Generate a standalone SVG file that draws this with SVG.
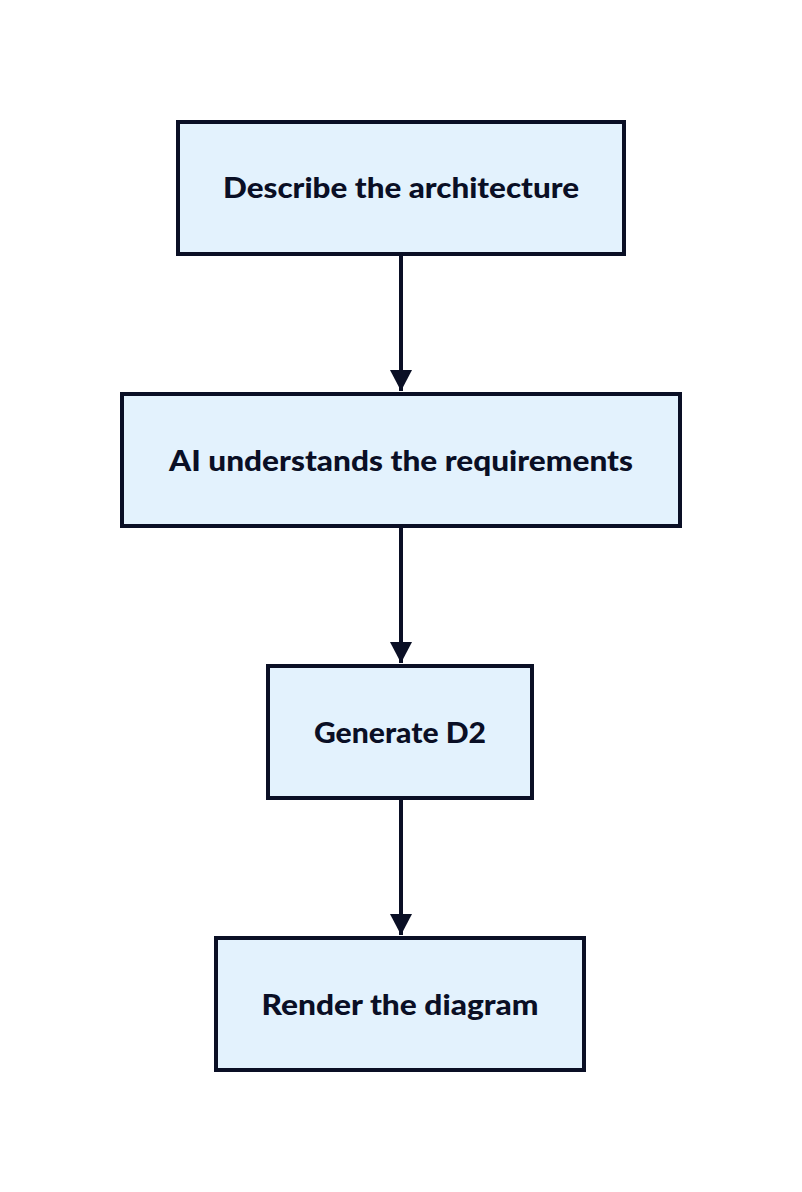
<svg xmlns="http://www.w3.org/2000/svg" width="802" height="1192" viewBox="0 0 802 1192">
  <defs>
    <style>
      .box { fill: #E3F2FD; stroke: #0A0F25; stroke-width: 4; }
      .label { font-family: "Lato", "Liberation Sans", sans-serif; font-weight: 900; font-size: 28px; fill: #0A0F25; text-anchor: middle; }
      .edge { stroke: #0A0F25; stroke-width: 4; fill: none; }
    </style>
    <marker id="arrow" markerUnits="userSpaceOnUse" markerWidth="24" markerHeight="22" refX="21" refY="11" orient="auto">
      <polygon points="0,0 21,11 0,22" fill="#0A0F25"/>
    </marker>
  </defs>
  <rect width="802" height="1192" fill="#FFFFFF"/>

  <g id="connectors">
    <line class="edge" x1="401" y1="254" x2="401" y2="391" marker-end="url(#arrow)"/>
    <line class="edge" x1="401" y1="526" x2="401" y2="663" marker-end="url(#arrow)"/>
    <line class="edge" x1="401" y1="798" x2="401" y2="935" marker-end="url(#arrow)"/>
  </g>

  <g id="describe">
    <rect class="box" x="178" y="122" width="446" height="132"/>
    <text class="label" x="401" y="198" textLength="356" lengthAdjust="spacingAndGlyphs">Describe the architecture</text>
  </g>
  <g id="understand">
    <rect class="box" x="122" y="394" width="558" height="132"/>
    <text class="label" x="401" y="471" textLength="464" lengthAdjust="spacingAndGlyphs">AI understands the requirements</text>
  </g>
  <g id="generate">
    <rect class="box" x="268" y="666" width="264" height="132"/>
    <text class="label" x="400" y="743" textLength="172" lengthAdjust="spacingAndGlyphs">Generate D2</text>
  </g>
  <g id="render">
    <rect class="box" x="216" y="938" width="368" height="132"/>
    <text class="label" x="400" y="1015" textLength="277" lengthAdjust="spacingAndGlyphs">Render the diagram</text>
  </g>
</svg>
